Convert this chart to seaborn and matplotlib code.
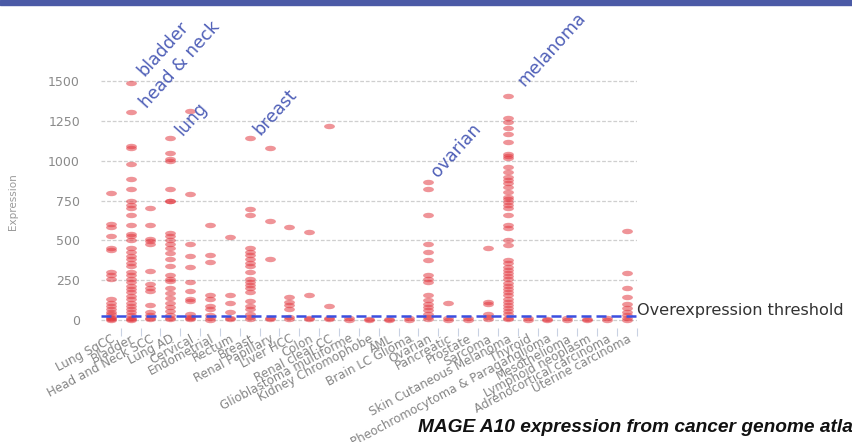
import numpy as np
import pandas as pd
import seaborn as sns
import matplotlib
matplotlib.use("Agg")
import matplotlib.pyplot as plt
from matplotlib.path import Path
from matplotlib.patches import Rectangle

# ---------------- data ----------------
categories = ["Lung SqCC", "Bladder", "Head and Neck SCC", "Lung AD", "Cervical",
              "Endometrial", "Rectum", "Breast", "Renal Papillary", "Liver HCC",
              "Colon", "Renal clear CC", "Glioblastoma multiforme", "Kidney Chromophobe",
              "AML", "Brain LC Glioma", "Ovarian", "Pancreatic", "Prostate", "Sarcoma",
              "Skin Cutaneous Melanoma", "Thyroid", "Pheochromocytoma & Paraganglioma",
              "Mesothelioma", "Lymphoid neoplasm", "Adrenocortical carcinoma",
              "Uterine carcinoma"]

lung_sqcc = [800, 600, 585, 530, 450, 440, 300, 280, 260, 130, 110, 90, 70, 50, 35, 20, 10, 5, 0]
bladder = [1490, 1305, 1095, 1080, 980, 885, 820, 745, 725, 705, 660, 595, 540, 525, 505,
           455, 430, 400, 380, 360, 340, 300, 280, 260, 240, 215, 195, 175, 150, 130, 110,
           90, 70, 50, 30, 15, 5, 0]
head_neck = [700, 595, 510, 495, 475, 305, 225, 200, 185, 95, 50, 30, 15, 5]
lung_ad = [1140, 1050, 1010, 995, 820, 750, 745, 545, 530, 505, 475, 450, 420, 380, 340,
           280, 260, 245, 200, 170, 140, 110, 80, 55, 30, 15, 5]
cervical = [1310, 790, 475, 400, 330, 240, 180, 135, 120, 40, 20, 10, 5]
endometrial = [595, 405, 365, 155, 130, 90, 70, 30, 10, 3]
rectum = [520, 155, 105, 50, 15, 5]
breast = [1140, 695, 660, 455, 430, 405, 380, 360, 340, 300, 260, 240, 220, 200, 175,
          120, 90, 70, 40, 20, 5]
renal_papillary = [1080, 620, 385, 15, 5]
liver_hcc = [585, 145, 115, 95, 70, 20, 5]
colon = [550, 155, 15, 5]
renal_clear = [1220, 85, 15, 5]
glioblastoma = [10, 3]
kidney_chromophobe = [8, 2]
aml = [8, 2]
brain_lgg = [10, 3]
ovarian = [868, 820, 660, 475, 425, 375, 285, 260, 240, 155, 125, 100, 80, 65, 40, 20, 5]
pancreatic = [105, 10, 3]
prostate = [10, 3]
sarcoma = [450, 115, 100, 40, 20, 5]
melanoma = [1405, 1270, 1245, 1205, 1170, 1120, 1045, 1030, 1015, 960, 930, 900, 880,
            860, 835, 805, 775, 760, 740, 720, 700, 660, 595, 575, 500, 470, 375, 355,
            335, 315, 295, 275, 255, 235, 215, 195, 175, 155, 135, 115, 95, 75, 55, 35,
            15, 5]
thyroid = [10, 3]
pheo_para = [8, 2]
mesothelioma = [10, 3]
lymphoid = [8, 2]
adrenocortical = [10, 3]
uterine = [560, 295, 200, 145, 100, 75, 50, 30, 10, 3]

series = [lung_sqcc, bladder, head_neck, lung_ad, cervical, endometrial, rectum, breast,
          renal_papillary, liver_hcc, colon, renal_clear, glioblastoma, kidney_chromophobe,
          aml, brain_lgg, ovarian, pancreatic, prostate, sarcoma, melanoma, thyroid,
          pheo_para, mesothelioma, lymphoid, adrenocortical, uterine]

threshold = 25
yticks = [0, 250, 500, 750, 1000, 1250, 1500]

annotations = [("bladder", 2.63, 1705), ("head & neck", 3.5, 1600), ("lung", 4.05, 1265),
               ("breast", 8.28, 1305), ("ovarian", 17.4, 1065), ("melanoma", 22.2, 1700)]

rows = []
for cat, vals in zip(categories, series):
    for v in vals:
        rows.append((cat, v))
df = pd.DataFrame(rows, columns=["cancer", "expression"])

# ---------------- plot ----------------
sns.set_theme(style="white")
plt.rcParams["font.family"] = ["DejaVu Sans"]

W, H = 853, 442
fig = plt.figure(figsize=(W / 100, H / 100), dpi=100)
ax = fig.add_axes([100.8 / W, 1 - 328 / H, 536 / W, 316 / H])

circ = Path.unit_circle()
ellipse = Path(circ.vertices * np.array([1.0, 0.5]), circ.codes)

sns.stripplot(data=df, x="cancer", y="expression", order=categories, jitter=False,
              marker=ellipse, size=7.8, color="#e2333b", alpha=0.52, linewidth=0,
              ax=ax, zorder=3)

ax.set_xlim(-0.5, len(categories) - 0.5)
ax.set_ylim(-50, 1933)
ax.set_yticks(yticks)
ax.set_yticklabels([str(t) for t in yticks])
ax.yaxis.grid(True, color="#cfcfcf", linestyle=(0, (3, 1.5)), linewidth=0.9, zorder=0)
ax.xaxis.grid(False)
for sp in ax.spines.values():
    sp.set_visible(False)

ax.axhline(threshold, color="#3b4fe0", linestyle=(0, (4, 2)), linewidth=1.8, zorder=4)

ax.tick_params(axis="y", length=0, pad=15, labelsize=9, labelcolor="#8a8a8a")
ax.tick_params(axis="x", which="major", length=0, pad=3, labelsize=8.6, labelcolor="#858585")
ax.set_xticks(range(len(categories)))
ax.set_xticklabels(categories, rotation=28, ha="right", rotation_mode="anchor")
ax.set_xticks(np.arange(len(categories)) + 0.5, minor=True)
ax.tick_params(axis="x", which="minor", length=6, width=0.8, color="#c9d2e3",
               bottom=True, direction="out")

ax.set_xlabel("")
ax.set_ylabel("Expression", fontsize=7.5, color="#9a9a9a")
ax.yaxis.set_label_coords(-83 / 536, 0.40)

for txt, x, y in annotations:
    ax.text(x, y, txt, rotation=48, color="#5060b8", fontsize=12.5, ha="center",
            va="center", clip_on=False, rotation_mode="anchor")

fig.text(637 / W, 1 - 310 / H, "Overexpression threshold", fontsize=11.6,
         color="#333333", ha="left", va="center")

fig.text(418 / W, 1 - 428 / H, "MAGE A10 expression from cancer genome atla",
         fontsize=13.8, fontweight="bold", fontstyle="italic", color="#111111",
         ha="left", va="center", family=["Liberation Sans", "DejaVu Sans"])

fig.patches.append(Rectangle((0, 1 - 5 / H), 1, 5 / H, transform=fig.transFigure,
                             color="#4b5aa6", zorder=10))

fig.savefig("out.png", dpi=100)
